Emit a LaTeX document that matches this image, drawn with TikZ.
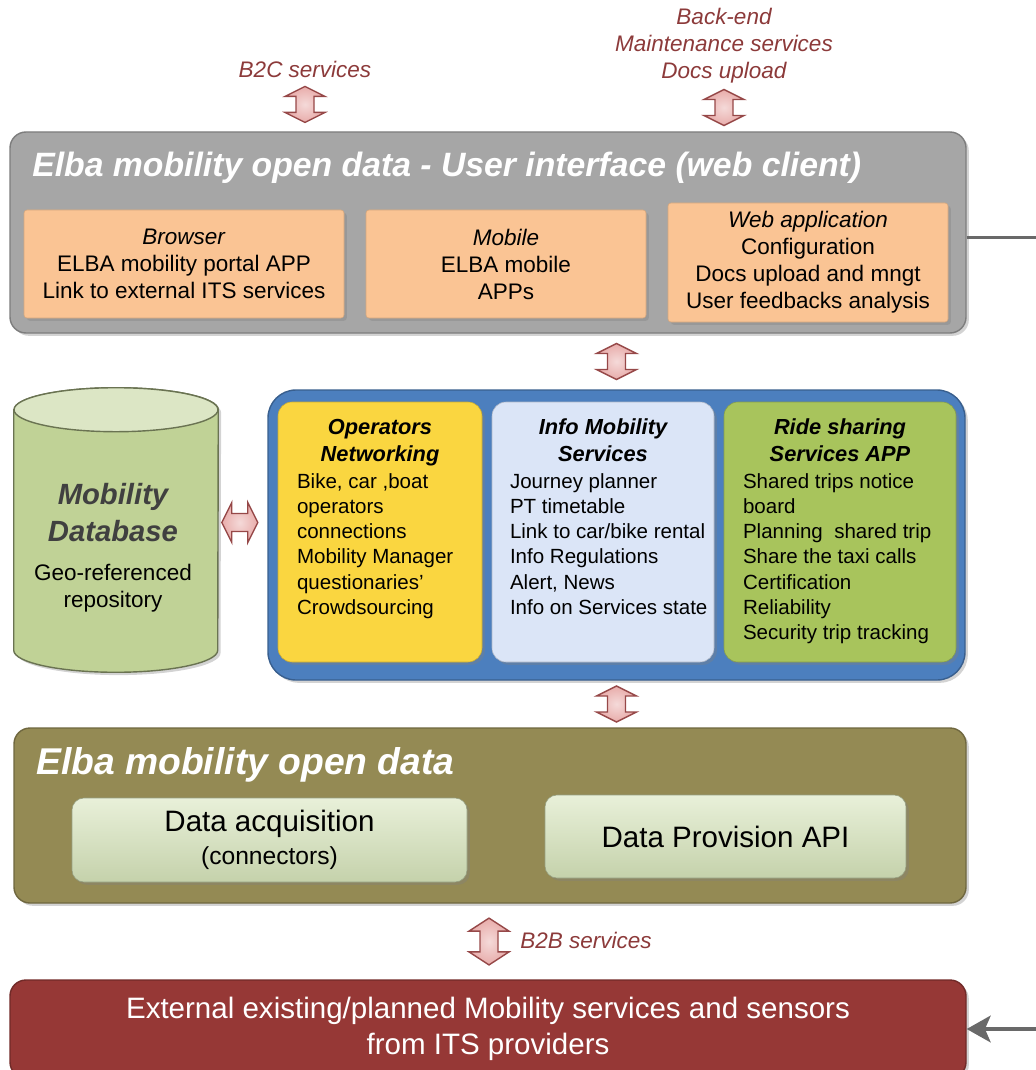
\documentclass[tikz,border=0pt]{standalone}
\usepackage{fontspec}
\setmainfont{Liberation Sans}
\usetikzlibrary{shadows,arrows.meta,calc,positioning}

\newdimen\px \px=0.025cm

\definecolor{linkred}{RGB}{140,58,58}
\definecolor{arrowpink}{RGB}{232,172,170}
\definecolor{arrowedge}{RGB}{150,72,72}
\definecolor{uigray}{RGB}{166,166,166}
\definecolor{appsorange}{RGB}{250,196,148}
\definecolor{dbgreen}{RGB}{192,210,150}
\definecolor{hubblue}{RGB}{76,127,190}
\definecolor{opsyellow}{RGB}{250,214,64}
\definecolor{infoblue}{RGB}{219,229,247}
\definecolor{ridegreen}{RGB}{168,196,92}
\definecolor{odolive}{RGB}{148,138,84}
\definecolor{modgreen}{RGB}{214,228,186}
\definecolor{extred}{RGB}{150,56,54}
\definecolor{linkgray}{RGB}{105,105,105}

\tikzset{
  softshadow/.style={drop shadow={opacity=.35,shadow xshift=2pt,shadow yshift=-2pt}},
  svclabel/.style={inner sep=0pt, align=center, text=linkred, font=\fontsize{16}{19.2}\selectfont\itshape},
  panel/.style={draw=#1!75!black, fill=#1, line width=1pt, rounded corners=16\px, softshadow},
  paneltitle/.style={anchor=west, inner sep=0pt, text=white, font=\fontsize{24}{28}\selectfont\bfseries\itshape},
  appbox/.style={draw=appsorange!85!black, fill=appsorange, rounded corners=3\px, align=center, font=\fontsize{16}{19.2}\selectfont, softshadow},
  colbox/.style={draw=#1!80!black, fill=#1, rounded corners=14\px, softshadow},
  colhead/.style={anchor=north, inner sep=0pt, align=center, font=\fontsize{15.5}{19.2}\selectfont\bfseries\itshape},
  colbody/.style={anchor=north west, inner sep=0pt, align=left, font=\fontsize{14.6}{17.8}\selectfont},
  modbox/.style={draw=modgreen!70!black, top color=modgreen!55!white, bottom color=modgreen!92!black, rounded corners=12\px, align=center, softshadow},
  dbshape/.style={draw=dbgreen!55!black, line width=1pt},
  feedback/.style={draw=linkgray, line width=2.5pt, -{Stealth[length=17pt,width=19pt,inset=4pt]}},
  fatarrow/.pic={
    \draw[arrowedge, line width=1pt, inner color=arrowpink!45!white, outer color=arrowpink]
      (0,-18) -- (20,-8) -- (9,-8) -- (9,8) -- (20,8) -- (0,18) -- (-20,8) -- (-9,8) -- (-9,-8) -- (-20,-8) -- cycle;
  }
}

\begin{document}
\begin{tikzpicture}[x=0.025cm,y=-0.025cm]
	\clip (0,0) rectangle (1036,1070);

	%% services on top
	\node[svclabel] (b2c) at (305,69) {B2C services};
	\node[svclabel] (backend) at (724,46) {Back-end\\Maintenance services\\Docs upload};

	%% user interface
	\node[panel=uigray, minimum width=956\px, minimum height=201\px] (ui) at (488,232.5) {};
	\node[paneltitle] (uititle) at (32,168) {Elba mobility open data - User interface (web client)};
	\node[appbox, minimum width=320\px, minimum height=108\px] (browser) at (184,264) {\textit{Browser}\\ELBA mobility portal APP\\Link to external ITS services};
	\node[appbox, minimum width=280\px, minimum height=108\px] (mobile) at (506,264) {\textit{Mobile}\\ELBA mobile\\APPs};
	\node[appbox, minimum width=280\px, minimum height=119\px] (webapp) at (808,262.5) {\textit{Web application}\\Configuration\\Docs upload and mngt\\User feedbacks analysis};

	%% database
	\node[minimum width=204\px, minimum height=284\px, inner sep=0pt] (db) at (116,530) {};
	\draw[dbshape, fill=dbgreen, softshadow] ([yshift=-22\px]db.north west) -- ([yshift=22\px]db.south west)
	    arc[start angle=180, end angle=0, x radius=102, y radius=22] -- ([yshift=-22\px]db.north east)
	    arc[start angle=0, end angle=-180, x radius=102, y radius=22] -- cycle;
	\draw[dbshape, fill=dbgreen!55!white] ([yshift=-22\px]db.north) ellipse [x radius=102, y radius=22];
	\node[inner sep=0pt, align=center, text=black!75, font=\fontsize{20.8}{26.3}\selectfont\bfseries\itshape] (dbtitle) at (113,513) {Mobility\\Database};
	\node[inner sep=0pt, align=center, font=\fontsize{16}{19.2}\selectfont] (dbsub) at (113,588) {Geo-referenced\\repository};

	%% mobility services
	\node[panel=hubblue, minimum width=697\px, minimum height=290\px, rounded corners=28\px] (hub) at (616.5,535) {};
	\node[colbox=opsyellow, minimum width=204\px, minimum height=260\px] (ops) at (380,532) {};
	\node[colbox=infoblue, minimum width=222\px, minimum height=260\px] (info) at (603,532) {};
	\node[colbox=ridegreen, minimum width=232\px, minimum height=260\px] (ride) at (840,532) {};

	\node[colhead] (opshead) at ([yshift=-17\px]ops.north) {Operators\\Networking};
	\node[colbody] (opsbody) at ([xshift=19\px,yshift=-72\px]ops.north west) {Bike, car ,boat\\operators\\connections\\Mobility Manager\\questionaries'\\Crowdsourcing};
	\node[colhead] (infohead) at ([yshift=-17\px]info.north) {Info Mobility\\Services};
	\node[colbody] (infobody) at ([xshift=18\px,yshift=-72\px]info.north west) {Journey planner\\PT timetable\\Link to car/bike rental\\Info Regulations\\Alert, News\\Info on Services state};
	\node[colhead] (ridehead) at ([yshift=-17\px]ride.north) {Ride sharing\\Services APP};
	\node[colbody] (ridebody) at ([xshift=19\px,yshift=-72\px]ride.north west) {Shared trips notice\\board\\Planning~ shared trip\\Share the taxi calls\\Certification\\Reliability\\Security trip tracking};

	%% open data
	\node[panel=odolive, minimum width=952\px, minimum height=175\px] (od) at (490,815.5) {};
	\node[paneltitle, font=\fontsize{26.5}{30}\selectfont\bfseries\itshape] (odtitle) at (36,765) {Elba mobility open data};
	\node[modbox, minimum width=395\px, minimum height=84\px, font=\fontsize{21}{23.5}\selectfont] (acq) at (269.5,840) {Data acquisition\\{\fontsize{17.5}{20}\selectfont (connectors)}};
	\node[modbox, minimum width=361\px, minimum height=83\px, font=\fontsize{21}{23.5}\selectfont] (prov) at (725.5,836.5) {Data Provision API};

	%% external providers
	\node[panel=extred, minimum width=956\px, minimum height=98\px, text=white, align=center, font=\fontsize{21}{25.6}\selectfont] (ext) at (488,1029) {External existing/planned Mobility services and sensors\\from ITS providers};
	\node[svclabel, anchor=west] (b2b) at (520,940) {B2B services};

	%% arrows
	\pic at ($(b2c.south)!.5!(b2c.south |- ui.north)$) {fatarrow};
	\pic at ($(backend.south)!.5!(backend.south |- ui.north)$) {fatarrow};
	\pic at ($(ui.south -| hub.north)!.5!(hub.north)$) {fatarrow};
	\pic at ($(hub.south)!.5!(od.north -| hub.south)$) {fatarrow};
	\pic[yscale=1.3] at ($(od.south)!.5!(ext.north)$) {fatarrow};
	\pic[rotate=90] at ([xshift=-3\px,yshift=10\px]$(db.east)!.5!(hub.west)$) {fatarrow};

	%% feedback line
	\draw[feedback] ([yshift=-5\px]ui.east) -- ++(90,0) |- (ext.east);
\end{tikzpicture}
\end{document}
